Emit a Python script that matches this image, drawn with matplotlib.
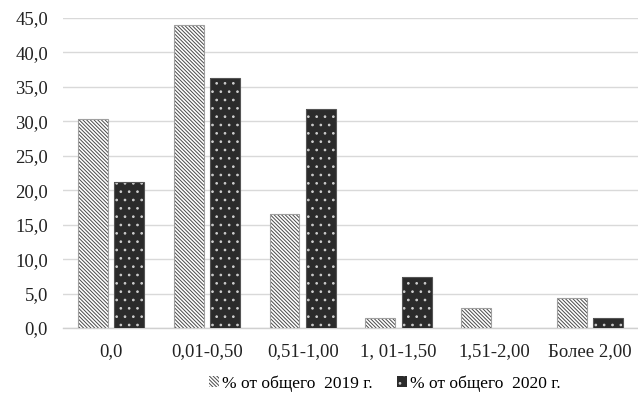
import matplotlib
matplotlib.use("Agg")
import matplotlib.pyplot as plt
import numpy as np
from matplotlib.patches import Patch

plt.rcParams['font.family'] = ['Liberation Serif', 'DejaVu Serif']
plt.rcParams['hatch.linewidth'] = 0.7

categories = ["0,0", "0,01-0,50", "0,51-1,00", "1, 01-1,50", "1,51-2,00", "Более 2,00"]
share_2019 = [30.3, 44.0, 16.6, 1.4, 2.9, 4.4]
share_2020 = [21.2, 36.3, 31.8, 7.4, 0.0, 1.4]
series_labels = ["% от общего  2019 г.", "% от общего  2020 г."]
yticks = np.arange(0, 46, 5)

HATCH_2019 = '\\' * 9
HATCH_2020 = '..'

fig = plt.figure(figsize=(6.38, 4.07), dpi=100)
ax = fig.add_axes([0.099, 0.194, 0.901, 0.762])

x = np.arange(len(categories))
w = 0.31
gap = 0.07
x1 = x - (w + gap) / 2
x2 = x + (w + gap) / 2

# 2019: white bars with dense diagonal hatching
ax.bar(x1, share_2019, w, facecolor='white', edgecolor='#4a4a4a',
       hatch=HATCH_2019, linewidth=0, zorder=3)
ax.bar(x1, share_2019, w, facecolor='none', edgecolor='#a0a0a0',
       linewidth=0.8, zorder=4)

# 2020: dark bars with sparse white dots
ax.bar(x2, share_2020, w, facecolor='#2b2b2b', edgecolor='#cfcfcf',
       hatch=HATCH_2020, linewidth=0, zorder=3)
ax.bar(x2, [v if v > 0 else np.nan for v in share_2020], w, facecolor='none',
       edgecolor='#555555', linewidth=0.8, zorder=4)

ax.set_xlim(-0.5, len(categories) - 0.5)
ax.set_ylim(0, 45)
ax.set_yticks(yticks)
ax.set_yticklabels([f"{v:.1f}".replace('.', ',') for v in yticks])
ax.set_xticks(x)
ax.set_xticklabels(categories)
ax.tick_params(axis='both', length=0, labelsize=13.5, colors='#222222')
ax.tick_params(axis='x', pad=11)
ax.tick_params(axis='y', pad=11)

ax.grid(axis='y', color='#d9d9d9', linewidth=1, zorder=0)
for s in ['top', 'right', 'left']:
    ax.spines[s].set_visible(False)
ax.spines['bottom'].set_color('#d0d0d0')
ax.spines['bottom'].set_linewidth(1)

handles = [
    Patch(facecolor='white', edgecolor='#4a4a4a', hatch=HATCH_2019, linewidth=0),
    Patch(facecolor='#2b2b2b', edgecolor='#cfcfcf', hatch=HATCH_2020, linewidth=0),
]
fig.legend(handles, series_labels, loc='center', bbox_to_anchor=(0.603, 0.058),
           ncol=2, frameon=False, fontsize=12.5, handlelength=0.6,
           handleheight=0.6, handletextpad=0.15, columnspacing=1.4)

fig.savefig("out.png", dpi=100)
